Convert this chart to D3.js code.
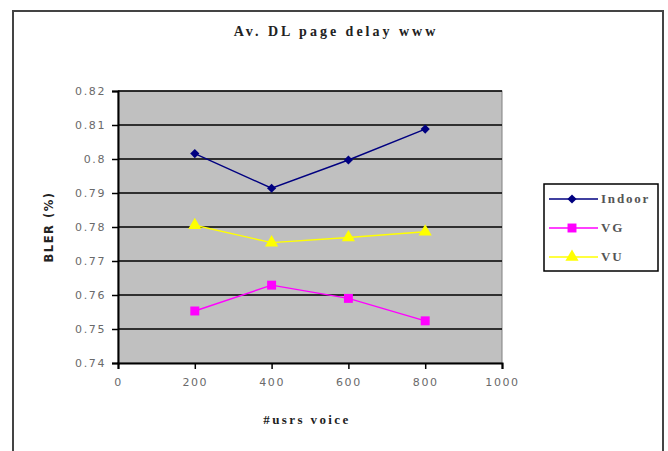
<!DOCTYPE html>
<html><head><meta charset="utf-8">
<script src="https://cdn.jsdelivr.net/npm/d3@7"></script>
<style>body{margin:0;background:#fff}svg{display:block}</style>
</head><body>
<script>
const xValues = [200, 400, 600, 800];
const indoor = [0.8016, 0.7914, 0.7997, 0.8088];
const vg = [0.7553, 0.7629, 0.7590, 0.7524];
const vu = [0.7805, 0.7754, 0.7769, 0.7786];
const seriesNames = ["Indoor", "VG", "VU"];
const xTicks = [0, 200, 400, 600, 800, 1000];
const yTicks = [0.74, 0.75, 0.76, 0.77, 0.78, 0.79, 0.8, 0.81, 0.82];
const yTickLabels = ["0.74","0.75","0.76","0.77","0.78","0.79","0.8","0.81","0.82"];
const titleText = "Av. DL page delay www";
const xTitle = "#usrs voice";
const yTitle = "BLER (%)";

const W = 668, H = 451;
const svg = d3.select("body").append("svg").attr("width", W).attr("height", H);

// outer frame
svg.append("rect").attr("x", 13).attr("y", 11).attr("width", 650).attr("height", 460)
  .attr("fill", "#fff").attr("stroke", "#444").attr("stroke-width", 2);

const x = d3.scaleLinear().domain([0, 1000]).range([118, 502]);
const y = d3.scaleLinear().domain([0.74, 0.82]).range([363, 91]);

// plot area
svg.append("rect").attr("x", x(0)).attr("y", y(0.82)).attr("width", x(1000) - x(0)).attr("height", y(0.74) - y(0.82))
  .attr("fill", "#c0c0c0").attr("stroke", "#808080").attr("stroke-width", 1);

// gridlines
svg.append("g").selectAll("line").data(yTicks.slice(1)).join("line")
  .attr("x1", x(0)).attr("x2", x(1000)).attr("y1", d => y(d)).attr("y2", d => y(d))
  .attr("stroke", "#000").attr("stroke-width", 1.6);

const tickFont = "'DejaVu Sans', sans-serif";
// y axis
const yAxis = svg.append("g").attr("transform", `translate(${x(0)},0)`)
  .call(d3.axisLeft(y).tickValues(yTicks).tickFormat((d, i) => yTickLabels[i]).tickSize(6).tickPadding(6));
yAxis.select(".domain").attr("stroke", "#000").attr("stroke-width", 2);
yAxis.selectAll(".tick line").attr("stroke", "#000").attr("stroke-width", 1.5);
yAxis.selectAll("text").attr("fill", "#6a6a6a").style("font-family", tickFont).style("font-size", "11px").style("letter-spacing", "1.6px");

// x axis
const xAxis = svg.append("g").attr("transform", `translate(0,${y(0.74)})`)
  .call(d3.axisBottom(x).tickValues(xTicks).tickFormat(d3.format("d")).tickSize(6).tickPadding(9));
xAxis.select(".domain").attr("stroke", "#000").attr("stroke-width", 2);
xAxis.selectAll(".tick line").attr("stroke", "#000").attr("stroke-width", 1.5);
xAxis.selectAll("text").attr("fill", "#6a6a6a").style("font-family", tickFont).style("font-size", "11px").style("letter-spacing", "1.6px");

// titles
svg.append("text").attr("x", 336).attr("y", 36).attr("text-anchor", "middle")
  .style("font-family", "'Liberation Serif', serif").style("font-weight", "bold").style("font-size", "14px")
  .style("letter-spacing", "3px").attr("fill", "#222").text(titleText);
svg.append("text").attr("x", 307).attr("y", 424).attr("text-anchor", "middle")
  .style("font-family", "'Liberation Serif', serif").style("font-weight", "bold").style("font-size", "13px")
  .style("letter-spacing", "2.4px").attr("fill", "#222").text(xTitle);
svg.append("text").attr("transform", "translate(53,227) rotate(-90)").attr("text-anchor", "middle")
  .style("font-family", "'DejaVu Sans', sans-serif").style("font-weight", "bold").style("font-size", "11.5px")
  .style("letter-spacing", "1.5px").attr("fill", "#222").text(yTitle);

// series
const series = [
  {name: seriesNames[0], values: indoor, color: "#000080", marker: "diamond"},
  {name: seriesNames[1], values: vg, color: "#ff00ff", marker: "square"},
  {name: seriesNames[2], values: vu, color: "#ffff00", marker: "triangle"}
];
const symType = {diamond: d3.symbolSquare, square: d3.symbolSquare, triangle: d3.symbolTriangle};
const symSize = {diamond: 42, square: 80, triangle: 75};
const symRot = {diamond: 45, square: 0, triangle: 0};
const line = d3.line().x(d => x(d[0])).y(d => y(d[1]));

series.forEach(s => {
  const pts = xValues.map((v, i) => [v, s.values[i]]);
  svg.append("path").attr("d", line(pts)).attr("fill", "none").attr("stroke", s.color).attr("stroke-width", 1.4);
  svg.append("g").selectAll("path").data(pts).join("path")
    .attr("transform", d => `translate(${x(d[0])},${y(d[1])}) rotate(${symRot[s.marker]})`)
    .attr("d", d3.symbol().type(symType[s.marker]).size(symSize[s.marker]))
    .attr("fill", s.color);
});

// legend
const lg = svg.append("g");
lg.append("rect").attr("x", 544).attr("y", 184).attr("width", 114).attr("height", 87)
  .attr("fill", "#fff").attr("stroke", "#000").attr("stroke-width", 1.5);
series.forEach((s, i) => {
  const ly = 199 + i * 29;
  lg.append("line").attr("x1", 549).attr("x2", 598).attr("y1", ly).attr("y2", ly).attr("stroke", s.color).attr("stroke-width", 1.5);
  lg.append("path").attr("transform", `translate(572,${ly}) rotate(${symRot[s.marker]})`)
    .attr("d", d3.symbol().type(symType[s.marker]).size(symSize[s.marker])).attr("fill", s.color);
  lg.append("text").attr("x", 601).attr("y", ly + 4)
    .style("font-family", "'Liberation Serif', serif").style("font-weight", "bold").style("font-size", "13px")
    .style("letter-spacing", "1.8px").attr("fill", "#555").text(s.name);
});
</script>
</body></html>
